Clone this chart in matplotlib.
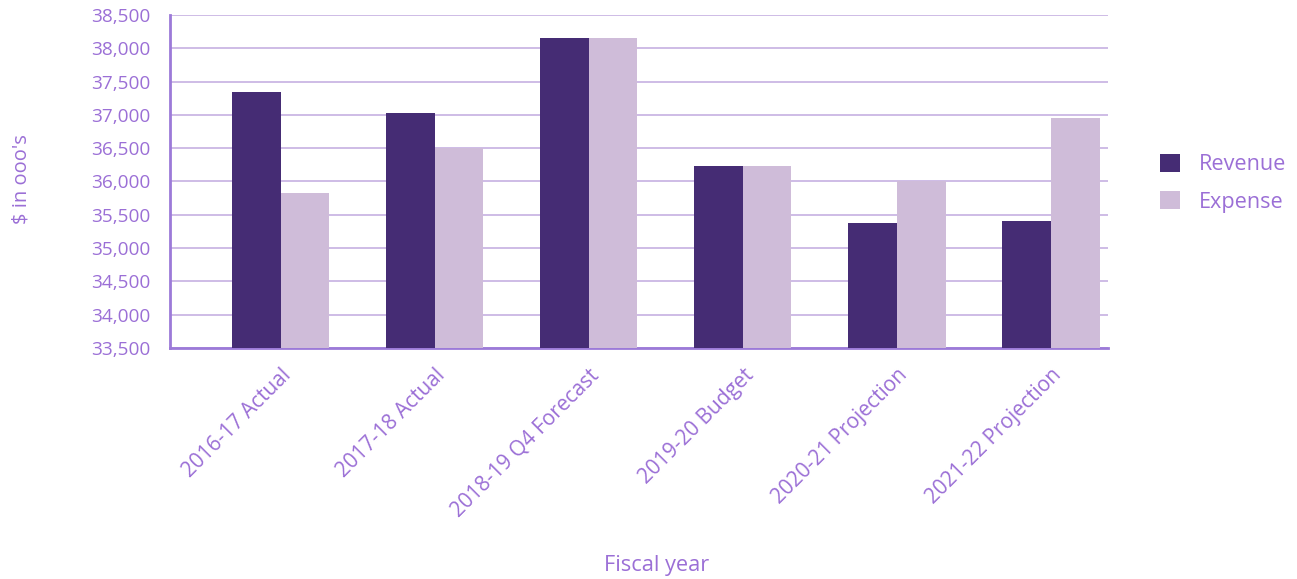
import matplotlib.pyplot as plt
import numpy as np

years = ["2016-17 Actual", "2017-18 Actual", "2018-19 Q4 Forecast",
         "2019-20 Budget", "2020-21 Projection", "2021-22 Projection"]
revenue = [37350, 37030, 38150, 36240, 35380, 35410]
expense = [35830, 36500, 38150, 36240, 36000, 36950]

txt = "#9b6fd6"
grid = "#c6b0e2"

plt.rcParams['font.family'] = ['Open Sans', 'DejaVu Sans']

fig = plt.figure(figsize=(12.97, 5.79), dpi=100)
ax = fig.add_axes([170 / 1297, 1 - 348 / 579, 938 / 1297, 333 / 579])

x = np.arange(len(years))
w = 0.315
ax.bar(x - w / 2, revenue, w, color="#452c74", label="Revenue", zorder=3)
ax.bar(x + w / 2, expense, w, color="#cfbcd9", label="Expense", zorder=3)

ax.set_ylim(33500, 38500)
ax.set_xlim(-0.72, 5.37)
ax.set_yticks(np.arange(33500, 38501, 500))
ax.set_yticklabels([f"{v:,}" for v in range(33500, 38501, 500)])
ax.yaxis.grid(True, color=grid, linewidth=1.2, zorder=0)
ax.set_axisbelow(True)

ax.set_xticks(x)
ax.set_xticklabels(years, rotation=45, ha="right", rotation_mode="anchor")
ax.tick_params(axis="both", length=0, colors=txt)
ax.tick_params(axis="y", pad=14, labelsize=13.7)
ax.tick_params(axis="x", pad=12, labelsize=15)

for s in ["top", "right"]:
    ax.spines[s].set_visible(False)
for s in ["left", "bottom"]:
    ax.spines[s].set_color("#9c7ad8")
    ax.spines[s].set_linewidth(2)

fig.text(22 / 1297, 1 - 179 / 579, "$ in ooo's", rotation=90, color=txt,
         fontsize=14.5, ha="center", va="center")
fig.text(657 / 1297, 1 - 566 / 579, "Fiscal year", color=txt,
         fontsize=15.7, ha="center", va="center")

leg = ax.legend(loc="center left", bbox_to_anchor=(1.035, 0.495), frameon=False,
                fontsize=15.6, handlelength=0.9, handleheight=0.9, labelspacing=0.75,
                handletextpad=0.9)
for t in leg.get_texts():
    t.set_color(txt)

fig.savefig("out.png", dpi=100)
